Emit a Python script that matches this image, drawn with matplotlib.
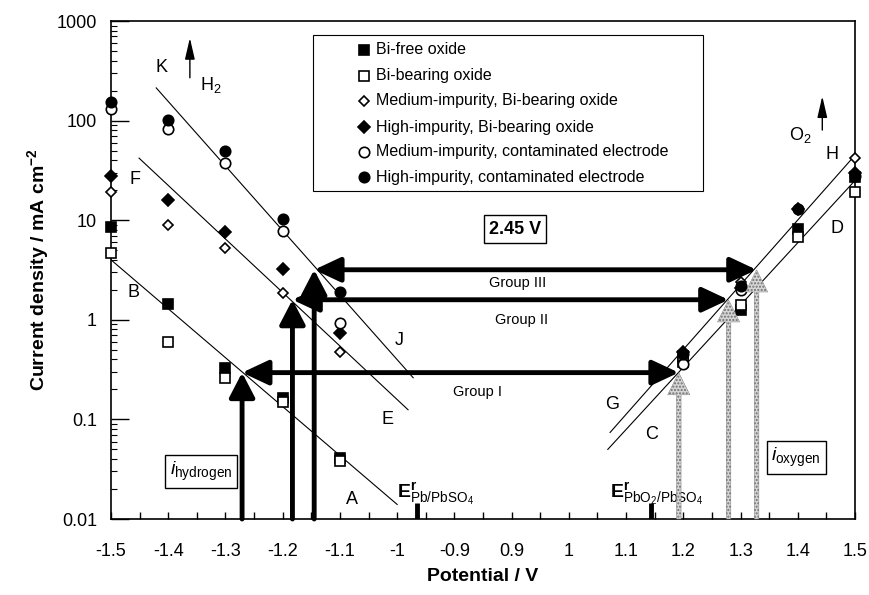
import numpy as np
import matplotlib
matplotlib.use("Agg")
import matplotlib.pyplot as plt
from matplotlib.patches import Rectangle

plt.rcParams['font.family'] = ['Liberation Sans', 'DejaVu Sans']
plt.rcParams['mathtext.fontset'] = 'custom'
plt.rcParams['mathtext.rm'] = 'Liberation Sans'
plt.rcParams['mathtext.it'] = 'Liberation Sans:italic'
plt.rcParams['mathtext.bf'] = 'Liberation Sans:bold'
plt.rcParams['axes.unicode_minus'] = False

# data
potential = [-1.5, -1.4, -1.3, -1.2, -1.1, 1.2, 1.3, 1.4, 1.5]
bi_free = [8.6, 1.45, 0.33, 0.165, 0.041, 0.43, 1.25, 8.2, 27]
bi_bearing = [4.7, 0.60, 0.26, 0.15, 0.038, 0.38, 1.4, 6.8, 19]
med_bi = [19, 9.0, 5.2, 1.87, 0.47, 0.38, 2.4, np.nan, 42]
high_bi = [28, 16, 7.7, 3.2, 0.74, 0.47, 2.1, 13, 30]
med_cont = [131, 83, 37.7, 7.8, 0.93, 0.36, 2.0, np.nan, np.nan]
high_cont = [154, 101, 49, 10.3, 1.9, 0.45, 2.2, 13, 28]

# Tafel lines (end points)
line_K = ([-1.421, -0.972], [213, 0.262])
line_F = ([-1.451, -0.981], [42, 0.125])
line_B = ([-1.5, -1.0], [4.0, 0.014])
line_G = ([1.072, 1.497], [0.074, 43])
line_C = ([1.068, 1.497], [0.050, 24])

# onset potentials and group current levels
group_level = [0.295, 1.59, 3.18]
h2_onset = [-1.271, -1.183, -1.145]
o2_onset = [1.192, 1.279, 1.328]
e_rev = [-0.965, 1.144]

xticks = [-1.5, -1.4, -1.3, -1.2, -1.1, -1.0, -0.9, 0.9, 1.0, 1.1, 1.2, 1.3, 1.4, 1.5]
xticklabels = ['-1.5', '-1.4', '-1.3', '-1.2', '-1.1', '-1', '-0.9',
               '0.9', '1', '1.1', '1.2', '1.3', '1.4', '1.5']


def fwd(v):
    v = np.asarray(v, dtype=float)
    return np.where(v <= -0.9, (v + 1.5) * 10,
                    np.where(v >= 0.9, 7 + (v - 0.9) * 10, 6 + (v + 0.9) / 1.8))


def inv(p):
    p = np.asarray(p, dtype=float)
    return np.where(p <= 6, p / 10 - 1.5,
                    np.where(p >= 7, (p - 7) / 10 + 0.9, -0.9 + (p - 6) * 1.8))


fig = plt.figure(figsize=(8.7, 5.95), dpi=100)
ax = fig.add_axes([0.1276, 0.1277, 0.8552, 0.8370])
ax.set_xscale('function', functions=(fwd, inv))
ax.set_yscale('log')
ax.set_xlim(-1.5, 1.5)
ax.set_ylim(0.01, 1000)

for s in ax.spines.values():
    s.set_linewidth(1.2)

ax.set_xticks(xticks)
ax.set_xticklabels(xticklabels)
minor_x = [-1.45, -1.35, -1.25, -1.15, -1.05, -0.95, 0.0, 0.95, 1.05, 1.15, 1.25, 1.35, 1.45]
ax.set_xticks(minor_x, minor=True)
ax.tick_params(axis='x', which='both', direction='in', length=5, width=1, pad=17, labelsize=13)
ax.tick_params(axis='y', which='major', direction='in', length=13, width=1, pad=10, labelsize=13)
ax.tick_params(axis='y', which='minor', direction='in', length=4, width=0.8)
ax.set_yticks([0.01, 0.1, 1, 10, 100, 1000])
ax.set_yticklabels(['0.01', '0.1', '1', '10', '100', '1000'])

ax.set_xlabel('Potential / V', fontsize=14, fontweight='bold', labelpad=6)
ax.set_ylabel('Current density / mA cm$^{\\mathbf{-2}}$', fontsize=14, fontweight='bold', labelpad=4)

# Tafel lines
for xs, ys in [line_K, line_F, line_B, line_G, line_C]:
    ax.plot(xs, ys, color='black', lw=0.8, zorder=2)

# data markers
series = [
    (bi_free, 's', 'black', 7, 'Bi-free oxide'),
    (bi_bearing, 's', 'white', 7, 'Bi-bearing oxide'),
    (med_bi, 'D', 'white', 5.5, 'Medium-impurity, Bi-bearing oxide'),
    (high_bi, 'D', 'black', 6, 'High-impurity, Bi-bearing oxide'),
    (med_cont, 'o', 'white', 7.5, 'Medium-impurity, contaminated electrode'),
    (high_cont, 'o', 'black', 7.5, 'High-impurity, contaminated electrode'),
]
for vals, m, fc, ms, lab in series:
    ax.plot(potential, vals, ls='none', marker=m, mfc=fc, mec='black', mew=1.2, ms=ms,
            zorder=4, clip_on=False)

# legend box drawn by hand
ax.add_patch(Rectangle((0.2715, 0.659), 0.5242, 0.313, transform=ax.transAxes,
                       fill=False, ec='black', lw=0.8, zorder=5))
row_y = [0.9418, 0.8896, 0.8394, 0.7871, 0.737, 0.6867]
for (vals, m, fc, ms, lab), yy in zip(series, row_y):
    ax.plot([0.340], [yy], transform=ax.transAxes, ls='none', marker=m, mfc=fc,
            mec='black', mew=1.2, ms=ms, zorder=6, clip_on=False)
    ax.text(0.356, yy, lab, transform=ax.transAxes, fontsize=11.5, va='center', ha='left', zorder=6)

# black double-headed arrows between onset potentials
bk = dict(color='black', lw=3.5, shrinkA=0, shrinkB=0, mutation_scale=10)
for lev, xh, xo in zip(group_level, h2_onset, o2_onset):
    ax.annotate('', xy=(xo, lev), xytext=(xh, lev),
                arrowprops=dict(arrowstyle='<|-|>,head_length=1.6,head_width=0.75', **bk), zorder=7)
    ax.annotate('', xy=(xh, lev), xytext=(xh, 0.01),
                arrowprops=dict(arrowstyle='-|>,head_length=1.5,head_width=0.78', **bk), zorder=7)
    ax.annotate('', xy=(xo, lev), xytext=(xo, 0.01),
                arrowprops=dict(arrowstyle='simple,head_length=1.6,head_width=1.6,tail_width=0.33',
                                fc='#d6d6d6', ec='#6e6e6e', hatch='.....', lw=0.3,
                                shrinkA=0, shrinkB=0, mutation_scale=10), zorder=6)

# reversible potentials
for e in e_rev:
    ax.plot([e, e], [0.01, 0.0145], color='black', lw=3.5, solid_capstyle='butt', zorder=3)

ax.text(0.384, 0.043, r'$\mathbf{E}^{\mathbf{r}}_{\mathrm{Pb/PbSO_4}}$', transform=ax.transAxes, fontsize=14)
ax.text(0.671, 0.043, r'$\mathbf{E}^{\mathbf{r}}_{\mathrm{PbO_2/PbSO_4}}$', transform=ax.transAxes, fontsize=14)

# line labels
letters = [('K', 0.0685, 0.9076), ('F', 0.032, 0.681), ('B', 0.030, 0.454), ('A', 0.324, 0.040),
           ('E', 0.371, 0.199), ('J', 0.387, 0.359), ('G', 0.673, 0.229), ('C', 0.727, 0.169),
           ('D', 0.976, 0.584), ('H', 0.969, 0.731)]
for t, fx, fy in letters:
    ax.text(fx, fy, t, transform=ax.transAxes, fontsize=13, ha='center', va='center')
ax.text(0.134, 0.871, r'H$_2$', transform=ax.transAxes, fontsize=13, ha='center', va='center')
ax.text(0.926, 0.771, r'O$_2$', transform=ax.transAxes, fontsize=13, ha='center', va='center')
ax.annotate('', xy=(0.106, 0.966), xytext=(0.106, 0.886), xycoords='axes fraction',
            arrowprops=dict(arrowstyle='-|>,head_length=1.3,head_width=0.3', color='black', lw=1,
                            shrinkA=0, shrinkB=0, mutation_scale=10))
ax.annotate('', xy=(0.956, 0.849), xytext=(0.956, 0.781), xycoords='axes fraction',
            arrowprops=dict(arrowstyle='-|>,head_length=1.3,head_width=0.3', color='black', lw=1,
                            shrinkA=0, shrinkB=0, mutation_scale=10))

# group labels
ax.text(0.547, 0.474, 'Group III', transform=ax.transAxes, fontsize=10.5, ha='center', va='center')
ax.text(0.552, 0.400, 'Group II', transform=ax.transAxes, fontsize=10.5, ha='center', va='center')
ax.text(0.492, 0.255, 'Group I', transform=ax.transAxes, fontsize=10.5, ha='center', va='center')

box = dict(boxstyle='square,pad=0.3', fc='white', ec='black', lw=1)
ax.text(0.543, 0.582, '2.45 V', transform=ax.transAxes, fontsize=13, fontweight='bold',
        ha='center', va='center', bbox=box, zorder=8)
ax.text(0.121, 0.096, r'$\mathit{i}_{\mathrm{hydrogen}}$', transform=ax.transAxes, fontsize=14,
        ha='center', va='center', bbox=dict(boxstyle='square,pad=0.25', fc='white', ec='black', lw=1))
ax.text(0.921, 0.124, r'$\mathit{i}_{\mathrm{oxygen}}$', transform=ax.transAxes, fontsize=14,
        ha='center', va='center', bbox=dict(boxstyle='square,pad=0.25', fc='white', ec='black', lw=1))

fig.savefig('out.png', dpi=100)
